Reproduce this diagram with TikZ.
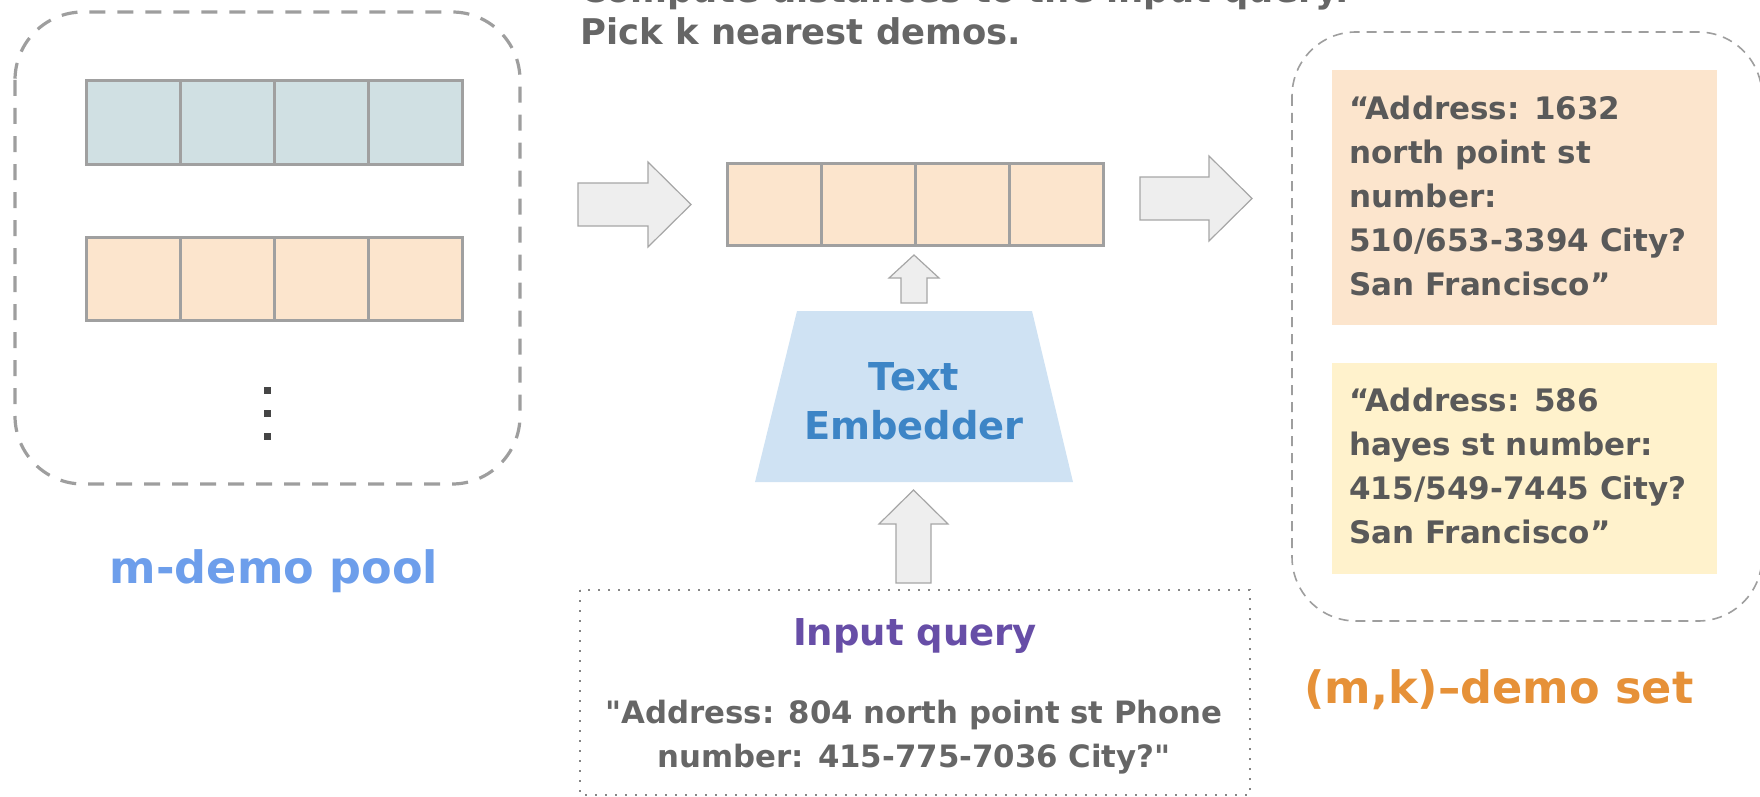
\documentclass[tikz,border=0pt]{standalone}
\usepackage{fontspec}
\setmainfont{DejaVu Sans}[Ligatures=TeXOff]

\definecolor{linegray}{HTML}{A0A0A0}
\definecolor{dashgray}{HTML}{9E9E9E}
\definecolor{poolblue}{HTML}{D0E0E3}
\definecolor{cellorange}{HTML}{FCE5CD}
\definecolor{boxyellow}{HTML}{FFF2CC}
\definecolor{embfill}{HTML}{CFE2F3}
\definecolor{embtext}{HTML}{3D85C6}
\definecolor{querypurple}{HTML}{674EA7}
\definecolor{poolcolor}{HTML}{6D9EEB}
\definecolor{setcolor}{HTML}{E69138}
\definecolor{darktext}{HTML}{595959}
\definecolor{querytext}{HTML}{666666}
\definecolor{arrowfill}{HTML}{EEEEEE}
\definecolor{arrowline}{HTML}{A6A6A6}

\tikzset{
  cell/.style={draw=linegray, line width=1.5pt},
  blockarrow/.style={draw=arrowline, fill=arrowfill, line width=0.6pt},
  pooldash/.style={draw=dashgray, line width=1.6pt, dash pattern=on 8pt off 6pt, rounded corners=34pt},
  setdash/.style={draw=dashgray, line width=0.8pt, dash pattern=on 5pt off 3.5pt, rounded corners=32pt},
  bigtitle/.style={font=\bfseries\fontsize{22.3}{26}\selectfont, inner sep=0pt},
  demotext/.style={font=\bfseries\fontsize{15.5}{22}\selectfont, text=darktext, align=left, inner sep=0pt}
}

\begin{document}
\begin{tikzpicture}[x=0.5pt,y=-0.5pt]
\useasboundingbox (0,0) rectangle (1760,797);

% m-demo pool
\draw[pooldash] (15,12) rectangle (520,484);
\foreach \y/\c in {81/poolblue,237/cellorange}{
  \foreach \i in {0,...,3}{
    \draw[cell,fill=\c] (86+94*\i,\y) rectangle ++(94,83);
  }
}
\foreach \y in {387,410,433}{
  \fill[black!73] (264,\y) rectangle ++(7,7);
}
\node[bigtitle,anchor=base,text=poolcolor] (pool) at (274,583) {m-demo pool};

% retrieval step
\node[anchor=south west,align=left,inner sep=0pt,text=querytext,
      font=\bfseries\fontsize{17.7}{21}\selectfont] (pick) at (580,45)
  {Compute distances to the input query.\\Pick k nearest demos.};
\draw[blockarrow] (578,183) -- (648,183) -- (648,162) -- (691,204.5)
  -- (648,247) -- (648,226) -- (578,226) -- cycle;
\foreach \i in {0,...,3}{
  \draw[cell,fill=cellorange] (727+94*\i,163) rectangle ++(94,82);
}
\draw[blockarrow] (901,303) -- (901,278) -- (889,278) -- (914,255)
  -- (939,278) -- (927,278) -- (927,303) -- cycle;
\fill[embfill] (797,311) -- (1032,311) -- (1073,482) -- (755,482) -- cycle;
\node[anchor=north,align=center,inner sep=0pt,text=embtext,
      font=\bfseries\fontsize{19.2}{24.5}\selectfont] (emb) at (914,362) {Text\\Embedder};
\draw[blockarrow] (896,583) -- (896,524) -- (879,524) -- (913.5,490)
  -- (948,524) -- (931,524) -- (931,583) -- cycle;

% input query
\draw[draw=querytext!80,line width=0.8pt,dash pattern=on 0.8pt off 4.2pt] (580,590) rectangle (1250,795);
\node[anchor=base,inner sep=0pt,text=querypurple,
      font=\bfseries\fontsize{18.5}{22}\selectfont] (inq) at (915,645) {Input query};
\node[anchor=north,align=center,inner sep=0pt,text=querytext,
      font=\bfseries\fontsize{15.4}{22}\selectfont] (qtext) at (914,700)
  {"Address: 804 north point st Phone\\number: 415-775-7036 City?"};

% (m,k)-demo set
\draw[blockarrow] (1140,177) -- (1209,177) -- (1209,156) -- (1252,198.5)
  -- (1209,241) -- (1209,220) -- (1140,220) -- cycle;
\draw[setdash] (1292,32) rectangle (1762,621);
\fill[cellorange] (1332,70) rectangle (1717,325);
\fill[boxyellow] (1332,363) rectangle (1717,574);
\node[demotext,anchor=north west] (demo1) at (1349,96)
  {“Address: 1632\\north point st\\number:\\510/653-3394 City?\\San Francisco”};
\node[demotext,anchor=north west] (demo2) at (1349,387.5)
  {“Address: 586\\hayes st number:\\415/549-7445 City?\\San Francisco”};
\node[bigtitle,anchor=base,text=setcolor] (set) at (1499,703) {(m,k)–demo set};
\end{tikzpicture}
\end{document}
